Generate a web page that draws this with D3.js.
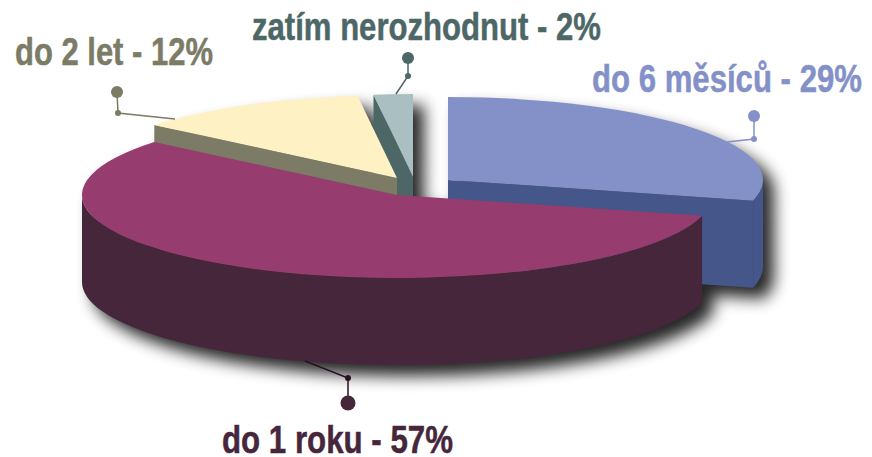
<!DOCTYPE html>
<html>
<head>
<meta charset="utf-8">
<script src="https://cdn.jsdelivr.net/npm/d3@7"></script>
<style>
html, body { margin: 0; background: #fff; }
svg { display: block; }
text { font-family: "Liberation Sans", sans-serif; font-weight: bold; }
</style>
</head>
<body>
<div id="chart"></div>
<script>
const categories = ["do 6 měsíců", "do 1 roku", "do 2 let", "zatím nerozhodnut"];
const shares = [29, 57, 12, 2];

const topColors = ["#8391c8", "#963c6e", "#fef1c4", "#a9bfc2"];
const wallColors = ["#45568a", "#46263b", "#7b7b66", "#4d6767"];
const labelColors = ["#8391c8", "#46263b", "#7b7b66", "#4d6767"];

// every slice is pulled out of the pie on its own, so each has its own centre
const centers = [[448, 180], [397, 195], [397, 178], [413, 177]];
const labelPos = [[592, 92, 270], [222, 453, 231], [15, 65, 198], [252, 40, 349]];
const leaders = [
    [[727, 142], [754, 139], [754, 116]],
    [[305, 361], [348, 378], [348, 403]],
    [[175, 119], [118, 113], [117, 92]],
    [[396, 94], [408, 76], [408, 58]]
];

const width = 872, height = 457;
const rx = 315, ry = 83, depth = 87;

const svg = d3.select("#chart").append("svg")
    .attr("width", width)
    .attr("height", height);

const blur = svg.append("defs").append("filter")
    .attr("id", "blur")
    .attr("x", "-10%").attr("y", "-10%")
    .attr("width", "120%").attr("height", "120%");
blur.append("feGaussianBlur").attr("stdDeviation", 8);

const slices = d3.pie().sort(null).value(d => d)(shares);
const arc = d3.arc().innerRadius(0).outerRadius(rx);

function point(c, a, dy) {
    return [c[0] + rx * Math.sin(a), c[1] - ry * Math.cos(a) + (dy || 0)];
}

// outer skin of a slice, only the part that faces the viewer
function outerWall(c, a0, a1) {
    const from = Math.max(a0, Math.PI / 2);
    const to = Math.min(a1, Math.PI * 1.5);
    if (to <= from) return null;
    const p0 = point(c, from), p1 = point(c, to);
    const q0 = point(c, from, depth), q1 = point(c, to, depth);
    const large = to - from > Math.PI ? 1 : 0;
    return `M${p0}A${rx},${ry} 0 ${large} 1 ${p1}L${q1}A${rx},${ry} 0 ${large} 0 ${q0}Z`;
}

// flat cut from the centre to the rim
function cutWall(c, a) {
    const p = point(c, a), q = point(c, a, depth);
    return `M${c}L${p}L${q}L${c[0]},${c[1] + depth}Z`;
}

function wallPaths(d, i) {
    const c = centers[i];
    const paths = [];
    if (Math.sin(d.startAngle) < -0.001) paths.push(cutWall(c, d.startAngle));
    if (Math.sin(d.endAngle) > 0.001) paths.push(cutWall(c, d.endAngle));
    const outer = outerWall(c, d.startAngle, d.endAngle);
    if (outer) paths.push(outer);
    return paths;
}

function topTransform(i) {
    return `translate(${centers[i]}) scale(1,${ry / rx})`;
}

// one soft shadow under the whole pie
const shadow = svg.append("g")
    .attr("filter", "url(#blur)")
    .attr("opacity", 0.85)
    .attr("transform", "translate(11,11)")
    .attr("fill", "#000");

slices.forEach((d, i) => {
    shadow.append("path").attr("d", arc(d)).attr("transform", topTransform(i));
    wallPaths(d, i).forEach(p => shadow.append("path").attr("d", p));
});

// back slices first, the big one lies on top of them
[3, 2, 0, 1].forEach(i => {
    const g = svg.append("g");
    wallPaths(slices[i], i).forEach(p => {
        g.append("path").attr("d", p).attr("fill", wallColors[i]);
    });
    g.append("path")
        .attr("d", arc(slices[i]))
        .attr("transform", topTransform(i))
        .attr("fill", topColors[i]);
});

const line = d3.line();
leaders.forEach((pts, i) => {
    const g = svg.append("g");
    g.append("path")
        .attr("d", line(pts))
        .attr("fill", "none")
        .attr("stroke", i === 1 ? "#2d0f25" : labelColors[i])
        .attr("stroke-width", 1.5);
    g.append("circle")
        .attr("cx", pts[1][0]).attr("cy", pts[1][1])
        .attr("r", 3)
        .attr("fill", i === 1 ? "#2d0f25" : labelColors[i]);
    g.append("circle")
        .attr("cx", pts[2][0]).attr("cy", pts[2][1])
        .attr("r", i === 1 ? 7.5 : 6)
        .attr("fill", labelColors[i]);
});

// the labels are a narrowed bold face, squeeze them to the width they have
svg.selectAll(".label")
    .data(categories)
    .enter().append("text")
    .attr("class", "label")
    .attr("font-size", 38)
    .attr("fill", (d, i) => labelColors[i])
    .attr("stroke", (d, i) => labelColors[i])
    .attr("stroke-width", 0.5)
    .text((d, i) => `${d} - ${shares[i]}%`)
    .attr("transform", function(d, i) {
        const sx = labelPos[i][2] / this.getComputedTextLength();
        return `translate(${labelPos[i][0]},${labelPos[i][1]}) scale(${sx},1)`;
    });
</script>
</body>
</html>
